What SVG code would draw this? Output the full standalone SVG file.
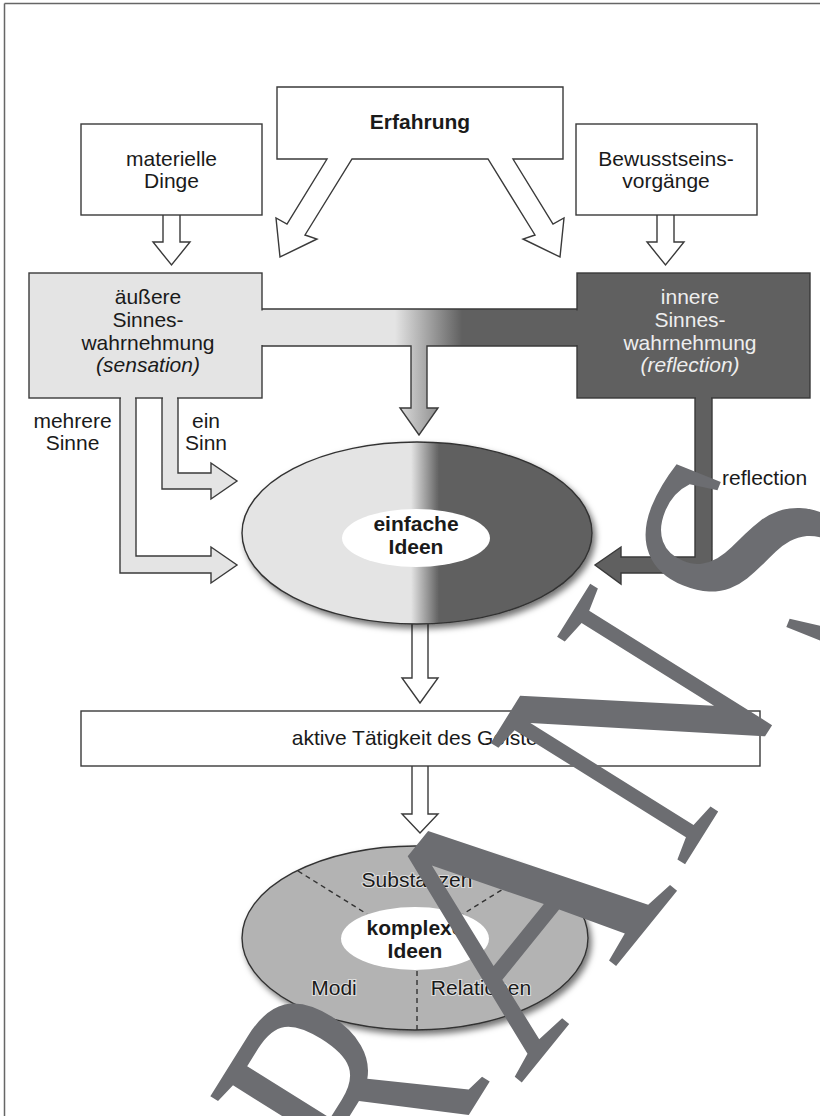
<svg xmlns="http://www.w3.org/2000/svg" width="820" height="1116" viewBox="0 0 820 1116">
<defs>
<style>
.t{font-family:"Liberation Sans",Arial,sans-serif;font-size:21px;fill:#1a1a1a;text-anchor:middle}
.b{font-weight:bold}
.i{font-style:italic}
.lt{fill:#eeeeee}
.box{fill:#ffffff;stroke:#3a3a3a;stroke-width:1.4}
.arr{fill:#ffffff;stroke:#3a3a3a;stroke-width:1.4}
.edge{stroke:#3a3a3a;stroke-width:1.4;stroke-linejoin:miter}
.halo{stroke:#dedede;stroke-width:2.2;paint-order:stroke}
.dash{stroke:#333333;stroke-width:1.4;stroke-dasharray:5 4;fill:none}
.wm{font-family:"Liberation Serif","Times New Roman",serif;font-size:350px;fill:#6c6d71;text-anchor:middle}
</style>
<linearGradient id="gBar" gradientUnits="userSpaceOnUse" x1="395" y1="0" x2="462" y2="0">
<stop offset="0" stop-color="#e4e4e4"/><stop offset="1" stop-color="#606060"/>
</linearGradient>
<linearGradient id="gEll" gradientUnits="userSpaceOnUse" x1="411" y1="0" x2="439" y2="0">
<stop offset="0" stop-color="#e4e4e4"/><stop offset="1" stop-color="#606060"/>
</linearGradient>
<filter id="sh" x="-10%" y="-10%" width="125%" height="130%">
<feDropShadow dx="3" dy="4" stdDeviation="3" flood-color="#000" flood-opacity="0.55"/>
</filter>
</defs>
<rect x="0" y="0" width="820" height="1116" fill="#ffffff"/>
<g id="frame" stroke="#666" stroke-width="1.5" fill="none">
<line x1="4.5" y1="3.5" x2="820" y2="3.5"/>
<line x1="4.5" y1="3.5" x2="4.5" y2="1116"/>
</g>

<g id="connectors">
<path class="arr" d="M163,215 V242 H153 L171.5,265 L190,242 H180 V215"/>
<path class="arr" d="M657,215 V242 H647 L665.5,265 L684,242 H674 V215"/>
<polygon class="edge" fill="url(#gBar)" points="255,309 585,309 585,346 427,346 427,408 438,408 419,435 400,408 411,408 411,346 255,346"/>
<polygon class="edge" fill="#e4e4e4" points="120,390 120,573 211,573 211,583 237,565 211,547 211,556 136,556 136,390"/>
<polygon class="edge" fill="#e4e4e4" points="162,390 162,489 211,489 211,499 237,481 211,463 211,473 178,473 178,390"/>
<polygon class="edge" fill="#606060" points="695,390 695,557 621,557 621,547 595,565 621,584 621,573 712,573 712,390"/>
<path class="arr" d="M412,624 V678 H402 L420,703 L438,678 H428 V624"/>
<path class="arr" d="M412,766 V814 H402 L420,833 L438,814 H428 V766"/>
</g>

<g id="erfahrung">
<polygon class="box" points="277,87 563,87 563,159 513,159 553,224 564,218 560,257 523,239 535,235 488,159 352,159 305,235 317,239 280,257 276,218 287,224 327,159 277,159"/>
<text class="t b" x="420" y="129">Erfahrung</text>
</g>

<g id="materielle">
<rect class="box" x="81" y="124" width="181" height="91"/>
<text class="t" x="171.5" y="166">materielle</text>
<text class="t" x="171.5" y="188">Dinge</text>
</g>

<g id="bewusstsein">
<rect class="box" x="576" y="124" width="181" height="91"/>
<text class="t" x="666" y="166">Bewusstseins-</text>
<text class="t" x="666" y="188">vorgänge</text>
</g>

<g id="aeussere">
<rect x="29" y="273" width="233" height="125" fill="#e4e4e4" stroke="#3a3a3a" stroke-width="1.4"/>
<rect x="259" y="310.5" width="6" height="34.5" fill="url(#gBar)"/>
<rect x="121" y="394" width="14" height="8" fill="#e4e4e4"/>
<rect x="163" y="394" width="14" height="8" fill="#e4e4e4"/>
<text class="t" x="148" y="304">äußere</text>
<text class="t" x="148" y="327">Sinnes-</text>
<text class="t" x="148" y="350">wahrnehmung</text>
<text class="t i" x="148" y="372">(sensation)</text>
</g>

<g id="innere">
<rect x="577" y="273" width="233" height="125" fill="#606060" stroke="#3a3a3a" stroke-width="1.4"/>
<rect x="574" y="310.5" width="6" height="34.5" fill="url(#gBar)"/>
<rect x="696" y="394" width="15" height="8" fill="#606060"/>
<text class="t lt" x="690" y="304">innere</text>
<text class="t lt" x="690" y="327">Sinnes-</text>
<text class="t lt" x="690" y="350">wahrnehmung</text>
<text class="t lt i" x="690" y="372">(reflection)</text>
</g>

<g id="labels">
<text class="t" x="72.5" y="428">mehrere</text>
<text class="t" x="72.5" y="450">Sinne</text>
<text class="t" x="206" y="428">ein</text>
<text class="t" x="206" y="450">Sinn</text>
<text class="t" x="722" y="485" style="text-anchor:start">reflection</text>
</g>

<g id="einfache">
<ellipse cx="417" cy="533" rx="175" ry="91" fill="url(#gEll)" stroke="#333" stroke-width="1.4" filter="url(#sh)"/>
<ellipse cx="416" cy="538" rx="74" ry="29" fill="#ffffff"/>
<text class="t b" x="416" y="531">einfache</text>
<text class="t b" x="416" y="554">Ideen</text>
</g>

<g id="aktive">
<rect class="box" x="81" y="711" width="679" height="55"/>
<text class="t" x="420" y="745">aktive Tätigkeit des Geistes</text>
</g>

<g id="komplexe">
<ellipse cx="415" cy="938" rx="173" ry="92" fill="#b3b3b3" stroke="#333" stroke-width="1.4" filter="url(#sh)"/>
<line class="dash" x1="298" y1="871" x2="367" y2="914"/>
<line class="dash" x1="532" y1="871" x2="463" y2="914"/>
<line class="dash" x1="417" y1="971" x2="417" y2="1030"/>
<ellipse cx="415" cy="938.5" rx="74" ry="31.5" fill="#ffffff"/>
<text class="t b" x="415" y="935">komplexe</text>
<text class="t b" x="415" y="958">Ideen</text>
<text class="t halo" x="417" y="887">Substanzen</text>
<text class="t halo" x="334" y="995">Modi</text>
<text class="t halo" x="481" y="995">Relationen</text>
</g>

<g id="watermark">
<text class="wm" transform="translate(347,1091) rotate(-58) scale(0.72,1)" x="0" y="116">R</text>
<text class="wm" transform="translate(509,914) rotate(-51)" x="0" y="116">A</text>
<text class="wm" transform="translate(636,724) rotate(-58) scale(0.8,1)" x="0" y="116">N</text>
<text class="wm" transform="translate(758,552) rotate(-68) scale(0.8,1)" x="0" y="116">S</text>
</g>
</svg>
